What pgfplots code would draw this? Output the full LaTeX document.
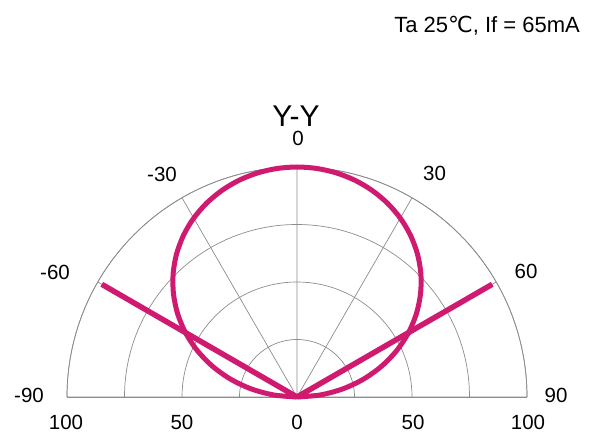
\documentclass[border=0pt]{standalone}
\usepackage{fontspec}
\setmainfont{Liberation Sans}
\newfontfamily\dejavu{DejaVu Sans}
\usepackage{pgfplots}
\pgfplotsset{compat=1.18}
\usepgfplotslibrary{polar}
\definecolor{curve}{RGB}{208,26,112}
\definecolor{gridc}{RGB}{140,140,140}

\begin{document}
\begin{tikzpicture}
\begin{polaraxis}[
  scale only axis, width=460bp, height=460bp,
  xmin=0, xmax=180, ymin=0, ymax=100,
  xtick={0,30,60,90,120,150,180},
  ytick={25,50,75,100},
  xticklabels={}, yticklabels={},
  grid=major,
  major grid style={draw=gridc, line width=0.7bp},
  axis line style={draw=gridc, line width=0.7bp},
  major tick length=0pt,
  clip=false,
]
\addplot[curve, line width=5bp, no marks, smooth, line join=round] coordinates {
(180,0) (175,10.15) (170,20.15) (165,29.86) (160,39.13) (155,47.87) (150,55.99)
(145,63.43) (140,70.15) (135,76.14) (130,81.40) (125,85.95) (120,89.81)
(115,93.00) (110,95.56) (105,97.53) (100,98.91) (95,99.73) (90,100)
(85,99.73) (80,98.91) (75,97.53) (70,95.56) (65,93.00) (60,89.81)
(55,85.95) (50,81.40) (45,76.14) (40,70.15) (35,63.43) (30,55.99)
(25,47.87) (20,39.13) (15,29.86) (10,20.15) (5,10.15) (0,0)
};
\addplot[curve, line width=5.5bp, no marks] coordinates {(30,0) (30,98)};
\addplot[curve, line width=5.5bp, no marks] coordinates {(150,0) (150,98)};
\coordinate (O) at (axis cs:0,0);
\end{polaraxis}
\begin{scope}[shift={(O)}, every node/.style={inner sep=0pt, font=\fontsize{20.5bp}{24bp}\selectfont}]
\node at (1bp,258.5bp) {0};
\node at (-135bp,222.3bp) {-30};
\node at (137.5bp,223.5bp) {30};
\node at (-242bp,124.5bp) {-60};
\node at (229bp,126bp) {60};
\node at (-268bp,2bp) {-90};
\node at (259bp,2bp) {90};
\node at (-231bp,-25.2bp) {100};
\node at (-115bp,-25.2bp) {50};
\node at (0bp,-25.2bp) {0};
\node at (116bp,-25.2bp) {50};
\node at (231bp,-25.2bp) {100};
\node[anchor=base, font=\fontsize{30bp}{36bp}\selectfont] at (-1bp,270.3bp) {Y-Y};
\node[anchor=base east, font=\fontsize{22bp}{26bp}\selectfont] at (283bp,364.7bp) {Ta 25{\dejavu ℃}, If = 65mA};
\end{scope}
\pgfresetboundingbox
\path[use as bounding box] ([shift={(-297bp,-35bp)}]O) rectangle ([shift={(292bp,397bp)}]O);
\end{tikzpicture}
\end{document}
